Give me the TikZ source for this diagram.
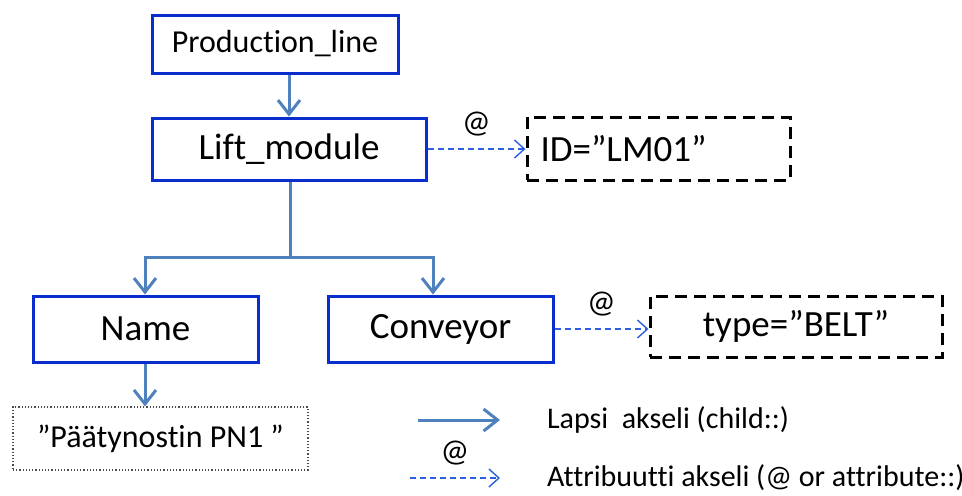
\documentclass[tikz,border=0pt]{standalone}
\usepackage{fontspec}
\setmainfont[Ligatures=NoCommon]{Carlito}
\usepackage{tikz}
\usetikzlibrary{arrows.meta, positioning}
\definecolor{boxblue}{RGB}{10,45,205}
\definecolor{arrowblue}{RGB}{79,129,189}
\definecolor{attrblue}{RGB}{45,95,225}
\tikzset{
elem/.style={
    rectangle,
    draw=boxblue,
    line width=1.5pt,
    inner sep=0pt,
    font=\fontsize{18.5}{20}\selectfont
},
attr/.style={
    rectangle,
    draw=black,
    line width=1.5pt,
    dash pattern=on 6pt off 3.5pt,
    inner sep=0pt,
    font=\fontsize{18.5}{20}\selectfont
},
child/.style={-{Straight Barb[length=7pt, width=11pt]}, draw=arrowblue, line width=1.5pt},
attredge/.style={-{Straight Barb[length=5pt, width=9pt]}, draw=attrblue, line width=0.7pt, dash pattern=on 3pt off 2pt},
atlabel/.style={above=3pt, font=\fontsize{16}{18}\selectfont}
}

\begin{document}
\begin{tikzpicture}[
        x=0.5pt, y=-0.5pt
    ]
    \useasboundingbox (0,0) rectangle (962,495);

    % element nodes
    \node[elem, minimum width=123pt, minimum height=29pt, font=\fontsize{16}{18}\selectfont] (PL) at (275,44) {Production\_line};
    \node[elem, minimum width=137pt, minimum height=31pt] (LM) at (289,149) {Lift\_module};
    \node[elem, minimum width=112.5pt, minimum height=33pt] (Name) at (145.5,329) {Name};
    \node[elem, minimum width=112.5pt, minimum height=33pt] (Conv) at (440.5,329) {Conveyor};

    % attributes and text
    \node[attr, minimum width=131.5pt, minimum height=31.5pt, text width=118pt, align=left] (ID) at (658.5,148.5) {ID=”LM01”};
    \node[attr, minimum width=146pt, minimum height=30.5pt] (Type) at (796,326.5) {type=”BELT”};
    \node[rectangle, draw=black!70, densely dotted, line width=0.6pt, minimum width=147.5pt, minimum height=31.5pt,
          font=\fontsize{16}{18}\selectfont] (PN) at (160.5,438.5) {”Päätynostin PN1 ”};

    % child edges
    \coordinate (J) at (290,257);
    \draw[child] (LM.north |- PL.south) -- (LM.north);
    \draw[child] (LM.south -| J) -- (J) -| (Name.north -| 145,0);
    \draw[child] (J) -| (Conv.north -| 433,0);
    \draw[child] (Name.south -| 145,0) -- (PN.north -| 145,0);

    % attribute edges
    \draw[attredge] (LM.east) -- node[atlabel] {@} (ID.west |- LM.east);
    \draw[attredge] (Conv.east) -- node[atlabel] {@} (Type.west |- Conv.east);

    % legend
    \coordinate (L1a) at (418,420);
    \coordinate (L1b) at (500,420);
    \coordinate (L2a) at (410,478);
    \coordinate (L2b) at (500,478);
    \draw[child] (L1a) -- (L1b);
    \draw[attredge] (L2a) -- node[atlabel] {@} (L2b);
    \node[anchor=west, font=\fontsize{15}{17}\selectfont] (L1t) at (540,420) {Lapsi\ \ akseli (child::)};
    \node[anchor=west, font=\fontsize{15}{17}\selectfont] (L2t) at (540,478) {Attribuutti akseli (@ or attribute::)};

\end{tikzpicture}
\end{document}
